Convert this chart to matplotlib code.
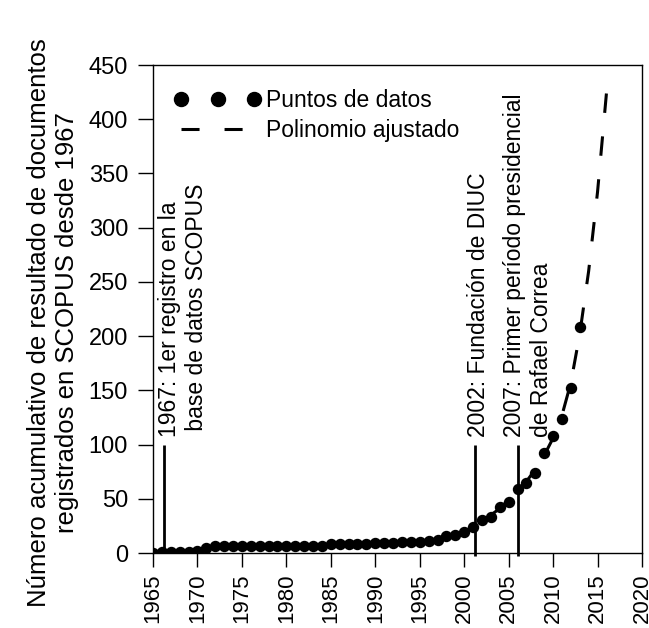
import matplotlib
matplotlib.use("Agg")
import matplotlib.pyplot as plt
from matplotlib.lines import Line2D

plt.rcParams["font.family"] = ["Liberation Sans", "DejaVu Sans"]
plt.rcParams["lines.scale_dashes"] = False

# Cumulative SCOPUS documents per year
years = [1965, 1966, 1967, 1968, 1969, 1970, 1971, 1972, 1973, 1974,
         1975, 1976, 1977, 1978, 1979, 1980, 1981, 1982, 1983, 1984,
         1985, 1986, 1987, 1988, 1989, 1990, 1991, 1992, 1993, 1994,
         1995, 1996, 1997, 1998, 1999, 2000, 2001, 2002, 2003, 2004,
         2005, 2006, 2007, 2008, 2009, 2010, 2011, 2012, 2013]
docs = [0, 1, 1, 1, 1, 2, 5, 6, 6, 6,
        6, 6, 6, 6, 6, 6, 6, 6, 6, 6,
        8, 8, 8, 8, 8, 9, 9, 9, 10, 10,
        10, 11, 12, 16, 17, 19, 24, 30, 33, 42,
        47, 59, 65, 74, 92, 108, 124, 152, 208]

# Fitted polynomial, sampled per year
fit_years = [1965, 1966, 1967, 1968, 1969, 1970, 1971, 1972, 1973, 1974,
             1975, 1976, 1977, 1978, 1979, 1980, 1981, 1982, 1983, 1984,
             1985, 1986, 1987, 1988, 1989, 1990, 1991, 1992, 1993, 1994,
             1995, 1996, 1997, 1998, 1999, 2000, 2001, 2002, 2003, 2004,
             2005, 2006, 2007, 2008, 2009, 2010, 2011, 2012, 2013, 2014,
             2015, 2016.1]
fit_values = [0, 1, 1, 2, 2, 3, 4, 5, 5, 5,
              6, 6, 6, 6, 6, 6, 6, 6, 6, 6,
              7, 7, 7, 7, 7, 8, 8, 8, 9, 9,
              10, 11, 13, 15, 17, 20, 24, 29, 35, 41,
              49, 57, 66, 77, 90, 106, 127, 157, 202, 260,
              333, 433]

# Milestones
event_x = [1966.25, 2001.2, 2006.05]
event_top = [100, 100, 100]
event_bottom = [0, -3, -3]
event_text = ["1967: 1er registro en la\n base de datos SCOPUS",
              "2002: Fundación de DIUC",
              "2007: Primer período presidencial\nde Rafael Correa"]
event_text_x = [1965.6, 2000.35, 2004.4]
event_text_y = 107

x_ticks = list(range(1965, 2021, 5))
y_ticks = list(range(0, 451, 50))

fig = plt.figure(figsize=(6.49, 6.28), dpi=100)
ax = fig.add_axes([153 / 649, 75 / 628, 489 / 649, 488 / 628])

fit_line, = ax.plot(fit_years, fit_values, color="black", lw=2.2,
                    dashes=(14, 17), dash_capstyle="butt", zorder=2)
pts, = ax.plot(years, docs, "o", color="black", ms=7.2, zorder=3)

for xe, yb, yt in zip(event_x, event_bottom, event_top):
    ax.plot([xe, xe], [yb, yt], color="black", lw=2.0, clip_on=False,
            solid_capstyle="butt", zorder=4)
for xt, txt in zip(event_text_x, event_text):
    ax.text(xt, event_text_y, txt, rotation=90, ha="left", va="bottom",
            multialignment="left", fontsize=16.5, rotation_mode="default")

ax.set_xlim(1965, 2020)
ax.set_ylim(0, 450)
ax.set_xticks(x_ticks)
ax.set_yticks(y_ticks)
ax.tick_params(axis="x", direction="out", length=10, width=1.0, pad=5,
               labelsize=16, labelrotation=90)
ax.tick_params(axis="y", direction="out", length=11, width=1.0, pad=7,
               labelsize=17)
for s in ax.spines.values():
    s.set_linewidth(1.0)

fig.text(53 / 649, 0.487,
         "Número acumulativo de resultado de documentos\n"
         "registrados en SCOPUS desde 1967",
         rotation=90, ha="center", va="center", multialignment="center",
         fontsize=18.5)

leg_pts = Line2D([], [], ls="none", marker="o", color="black", ms=7.2)
leg_fit = Line2D([], [], color="black", lw=2.2, dashes=(13, 18))
ax.legend([leg_pts, leg_fit], ["Puntos de datos", "Polinomio ajustado"],
          loc="upper left", bbox_to_anchor=(0.043, 0.95),
          borderaxespad=0, borderpad=0, frameon=False, handlelength=3.8,
          handletextpad=0.2, labelspacing=0.3, numpoints=3,
          markerscale=1.4, fontsize=16.5)

fig.savefig("out.png", dpi=100)
